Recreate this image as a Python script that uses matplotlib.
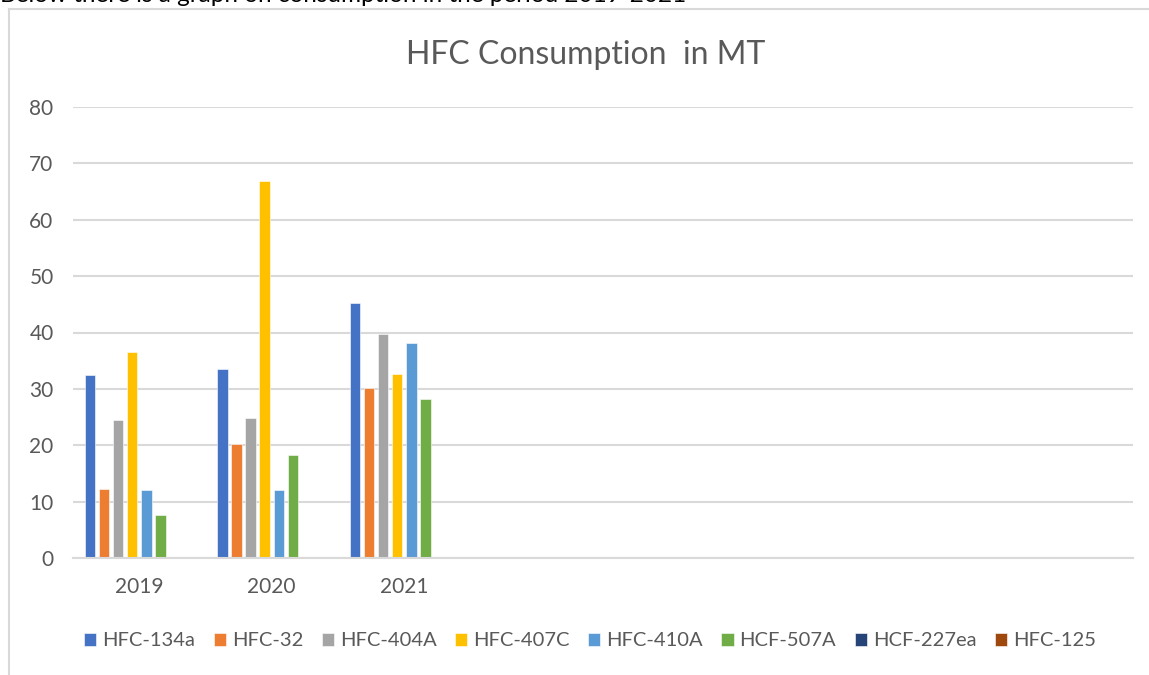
import numpy as np
import matplotlib
matplotlib.use("Agg")
import matplotlib.pyplot as plt
from matplotlib.lines import Line2D

# Data
years = ["2019", "2020", "2021", "", "", "", "", ""]
series = ["HFC-134a", "HFC-32", "HFC-404A", "HFC-407C", "HFC-410A",
          "HCF-507A", "HCF-227ea", "HFC-125"]
hfc_134a = [32.4, 33.6, 45.2]
hfc_32 = [12.2, 20.2, 30.2]
hfc_404a = [24.5, 24.8, 39.8]
hfc_407c = [36.6, 66.9, 32.7]
hfc_410a = [12.0, 12.0, 38.2]
hcf_507a = [7.7, 18.2, 28.2]
hcf_227ea = [0, 0, 0]
hfc_125 = [0, 0, 0]
values = [hfc_134a, hfc_32, hfc_404a, hfc_407c, hfc_410a, hcf_507a, hcf_227ea, hfc_125]
colors = ["#4472C4", "#ED7D31", "#A5A5A5", "#FFC000", "#5B9BD5",
          "#70AD47", "#264478", "#9E480E"]

plt.rcParams['font.family'] = ['Lato', 'DejaVu Sans']
text_color = "#595959"
grid_color = "#D9D9D9"

fig = plt.figure(figsize=(11.49, 6.75), dpi=100)
ax = fig.add_axes([73 / 1149, 1 - 558 / 675, 1060 / 1149, 451 / 675])

x = np.arange(len(years))
step = 14 / 132
width = 10.5 / 132
for i, (name, vals, c) in enumerate(zip(series, values, colors)):
    xs = x[:len(vals)] + (i - 3.5) * step
    ax.bar(xs, vals, width=width, color=c, label=name,
           edgecolor="white", linewidth=0.4)

ax.set_xlim(-0.5, len(years) - 0.5)
ax.set_ylim(0, 80)
ax.set_yticks(range(0, 81, 10))
ax.set_xticks(x)
ax.set_xticklabels(years)
ax.tick_params(axis="both", length=0, colors=text_color, labelsize=15)
ax.tick_params(axis="x", pad=14)
ax.tick_params(axis="y", pad=14)
ax.grid(axis="y", color=grid_color, linewidth=1.5)
ax.set_axisbelow(True)
for s in ["top", "right", "left"]:
    ax.spines[s].set_visible(False)
ax.spines["bottom"].set_color(grid_color)
ax.spines["bottom"].set_linewidth(1.5)

fig.text(586 / 1149, 1 - 55 / 675, "HFC Consumption  in MT", ha="center",
         va="center", fontsize=23, color=text_color)

ax.legend(loc="center", bbox_to_anchor=(590 / 1149, 1 - 641 / 675),
          bbox_transform=fig.transFigure, ncol=8, frameon=False,
          fontsize=14.5, handlelength=0.6, handleheight=0.6,
          handletextpad=0.3, columnspacing=0.92, labelcolor=text_color)

# chart frame and the cut-off text line above it
fig.add_artist(Line2D([9 / 1149, 1], [1 - 9 / 675, 1 - 9 / 675],
                      color=grid_color, linewidth=1.5))
fig.add_artist(Line2D([9 / 1149, 9 / 1149], [0, 1 - 9 / 675],
                      color=grid_color, linewidth=1.5))
fig.text(0, 1 + 5 / 675, "Below there is a graph on consumption in the period 2019-2021",
         ha="left", va="center", fontsize=17.5, color="black")

fig.savefig("out.png", dpi=100)
